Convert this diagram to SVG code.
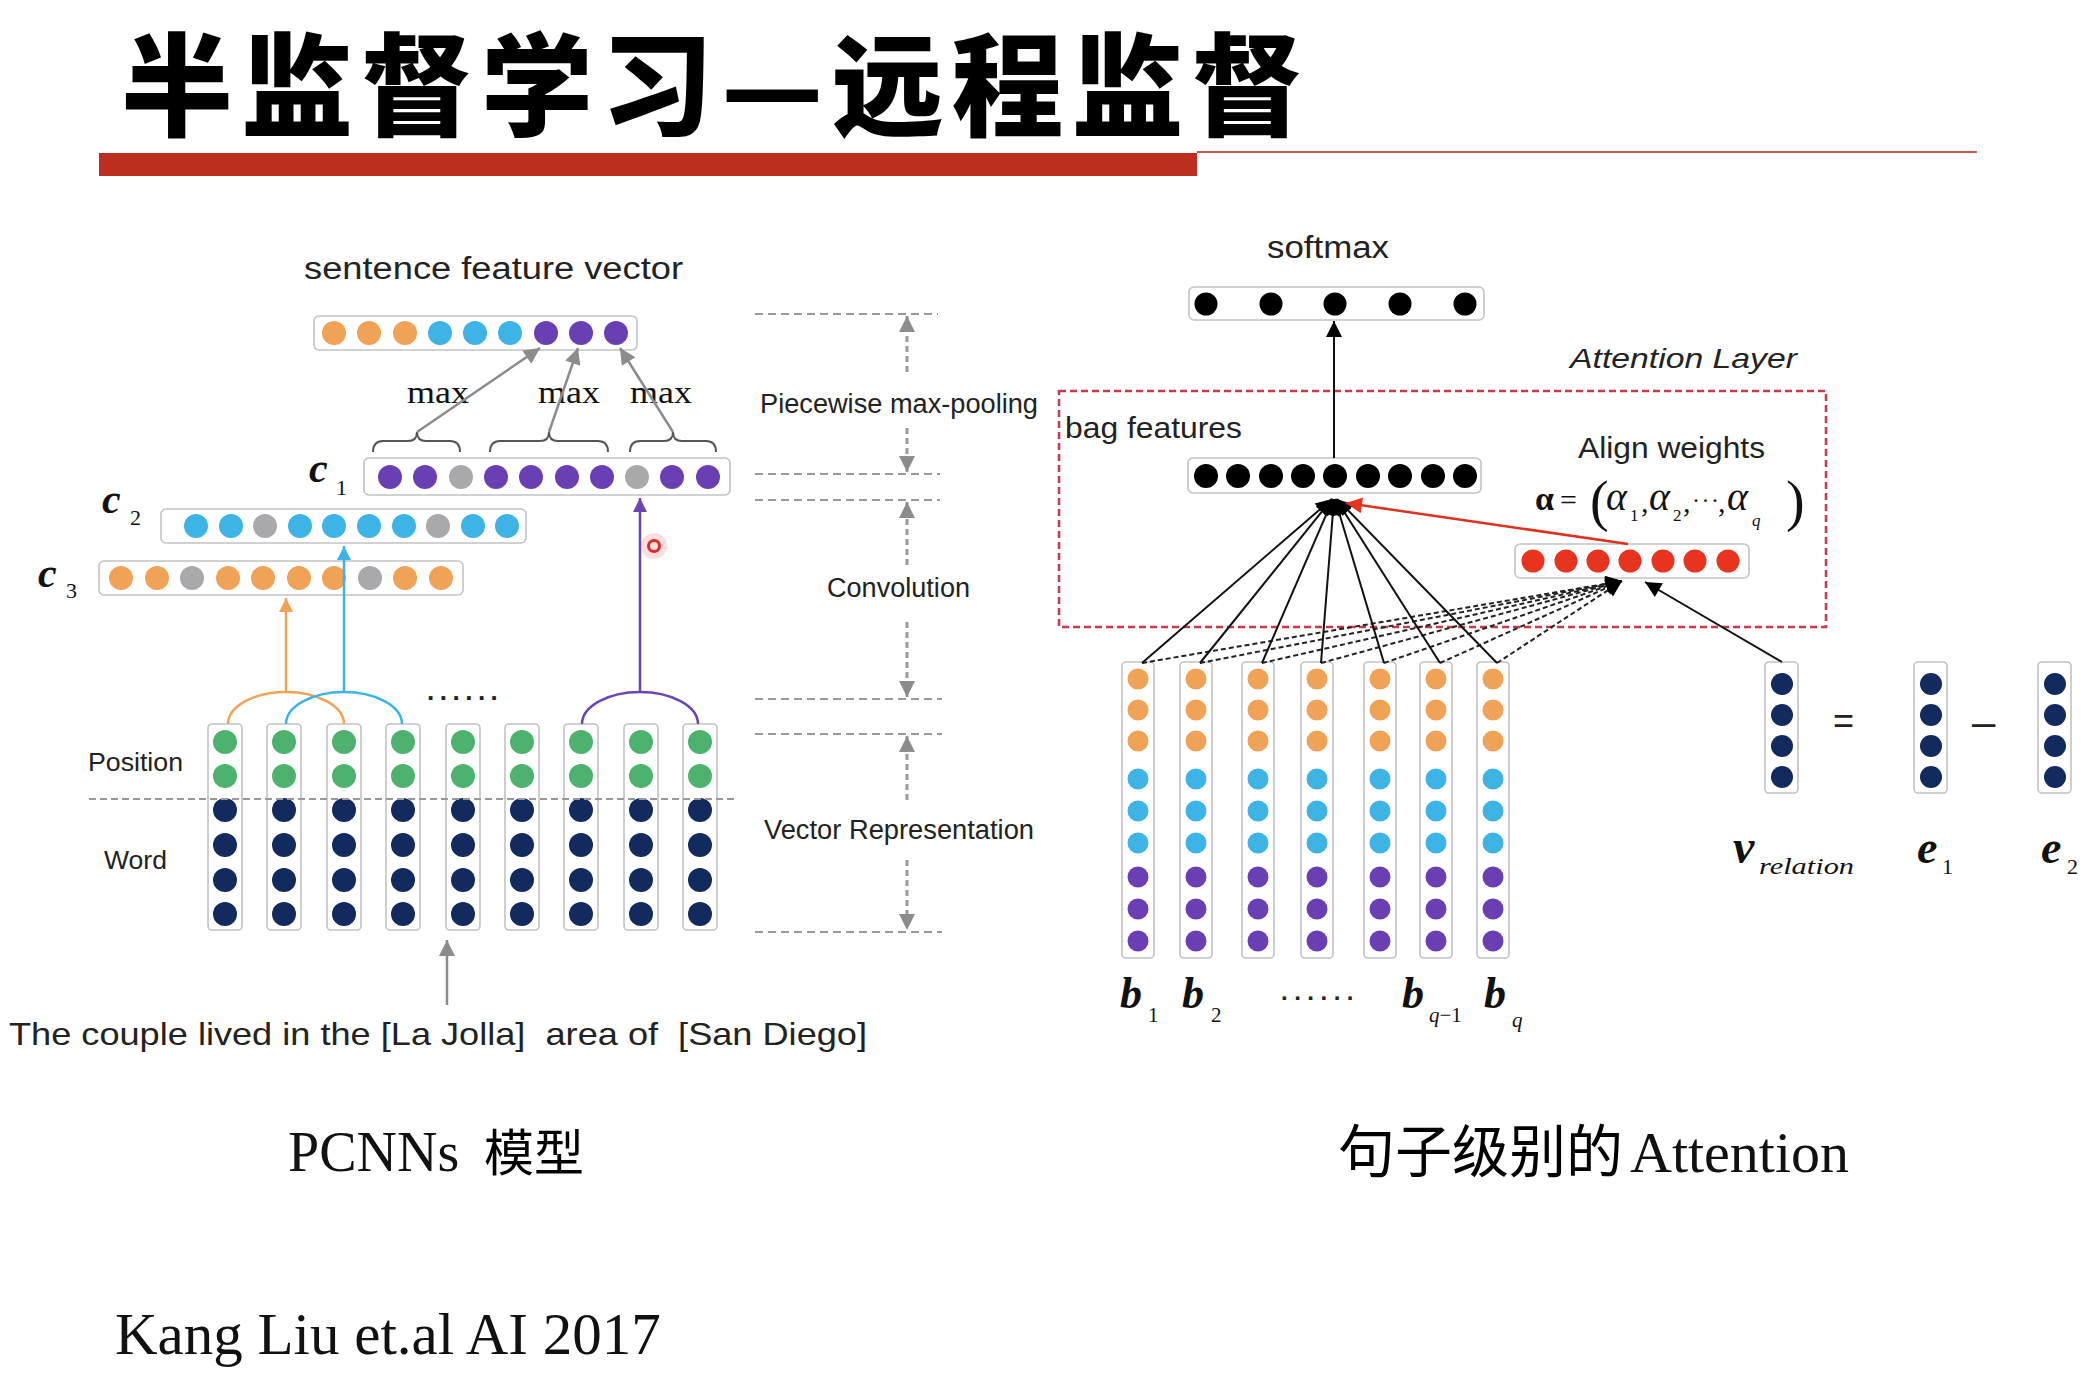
<svg xmlns="http://www.w3.org/2000/svg" width="2092" height="1374" viewBox="0 0 2092 1374">
<defs>
<style>
.bx{fill:#fff;stroke:#c2c2c2;stroke-width:1.6}
.o{fill:#f0a257}.b{fill:#3db3e6}.p{fill:#6a3fb3}.g{fill:#a9a9ab}.gr{fill:#4db26e}.n{fill:#122a5e}.k{fill:#000}.r{fill:#e8331f}
.sans{font-family:"Liberation Sans",Arial,sans-serif;fill:#222}
.serif{font-family:"Liberation Serif","Times New Roman",serif;fill:#111}
.cjk{font-family:"Noto Sans CJK SC",sans-serif}
.guide{stroke:#9a9a9a;stroke-width:2;stroke-dasharray:8 5;fill:none}
.gv{stroke:#9a9a9a;stroke-width:3;stroke-dasharray:6 4;fill:none}
.lbl{font-family:"Liberation Serif","Times New Roman",serif;font-weight:bold;font-style:italic;fill:#111}
</style>
<marker id="mg" viewBox="0 0 10 10" refX="10" refY="5" markerWidth="18" markerHeight="16" markerUnits="userSpaceOnUse" orient="auto"><path d="M0,0 L10,5 L0,10 z" fill="#8c8c8c"/></marker>
<marker id="mo" viewBox="0 0 10 10" refX="10" refY="5" markerWidth="16" markerHeight="14" markerUnits="userSpaceOnUse" orient="auto"><path d="M0,0 L10,5 L0,10 z" fill="#f0a257"/></marker>
<marker id="mb" viewBox="0 0 10 10" refX="10" refY="5" markerWidth="16" markerHeight="14" markerUnits="userSpaceOnUse" orient="auto"><path d="M0,0 L10,5 L0,10 z" fill="#3db3e6"/></marker>
<marker id="mp" viewBox="0 0 10 10" refX="10" refY="5" markerWidth="16" markerHeight="14" markerUnits="userSpaceOnUse" orient="auto"><path d="M0,0 L10,5 L0,10 z" fill="#6a45b3"/></marker>
<marker id="mk" viewBox="0 0 10 10" refX="10" refY="5" markerWidth="18" markerHeight="16" markerUnits="userSpaceOnUse" orient="auto"><path d="M0,0 L10,5 L0,10 z" fill="#000"/></marker>
<marker id="mr" viewBox="0 0 10 10" refX="10" refY="5" markerWidth="20" markerHeight="16" markerUnits="userSpaceOnUse" orient="auto"><path d="M0,0 L10,5 L0,10 z" fill="#e8331f"/></marker>
</defs>
<rect width="2092" height="1374" fill="#fff"/>

<!-- title -->
<g id="title">
<text x="121" y="128" class="cjk" font-size="112" font-weight="900" letter-spacing="8" fill="#000">半监督学习—远程监督</text>
<rect x="99" y="153" width="1098" height="23" fill="#bc2f1e"/>
<rect x="1197" y="151" width="780" height="2" fill="#c65a50"/>
</g>

<!-- ===== PCNN ===== -->
<g id="sentence-feature-vector">
<text x="304" y="279" class="sans" font-size="31" textLength="379" lengthAdjust="spacingAndGlyphs">sentence feature vector</text>
<rect class="bx" x="314" y="316" width="323" height="34" rx="5"/>
<circle class="o" cx="334" cy="333" r="12"/><circle class="o" cx="369" cy="333" r="12"/><circle class="o" cx="405" cy="333" r="12"/>
<circle class="b" cx="440" cy="333" r="12"/><circle class="b" cx="475" cy="333" r="12"/><circle class="b" cx="510" cy="333" r="12"/>
<circle class="p" cx="546" cy="333" r="12"/><circle class="p" cx="581" cy="333" r="12"/><circle class="p" cx="616" cy="333" r="12"/>
</g>

<g id="c1">
<text x="309" y="482" class="lbl" font-size="42">c</text><text x="336" y="495" class="serif" font-size="22">1</text>
<rect class="bx" x="364" y="458" width="366" height="37" rx="5"/>
<circle class="p" cx="390" cy="477" r="12"/><circle class="p" cx="425" cy="477" r="12"/><circle class="g" cx="461" cy="477" r="12"/>
<circle class="p" cx="496" cy="477" r="12"/><circle class="p" cx="531" cy="477" r="12"/><circle class="p" cx="567" cy="477" r="12"/>
<circle class="p" cx="602" cy="477" r="12"/><circle class="g" cx="637" cy="477" r="12"/><circle class="p" cx="672" cy="477" r="12"/>
<circle class="p" cx="708" cy="477" r="12"/>
</g>

<g id="c2">
<text x="102" y="513" class="lbl" font-size="42">c</text><text x="130" y="525" class="serif" font-size="22">2</text>
<rect class="bx" x="161" y="509" width="365" height="34" rx="5"/>
<circle class="b" cx="196" cy="526" r="12"/><circle class="b" cx="231" cy="526" r="12"/><circle class="g" cx="265" cy="526" r="12"/>
<circle class="b" cx="300" cy="526" r="12"/><circle class="b" cx="334" cy="526" r="12"/><circle class="b" cx="369" cy="526" r="12"/>
<circle class="b" cx="404" cy="526" r="12"/><circle class="g" cx="438" cy="526" r="12"/><circle class="b" cx="473" cy="526" r="12"/>
<circle class="b" cx="507" cy="526" r="12"/>
</g>

<g id="c3">
<text x="38" y="587" class="lbl" font-size="42">c</text><text x="66" y="598" class="serif" font-size="22">3</text>
<rect class="bx" x="99" y="561" width="364" height="34" rx="5"/>
<circle class="o" cx="121" cy="578" r="12"/><circle class="o" cx="157" cy="578" r="12"/><circle class="g" cx="192" cy="578" r="12"/>
<circle class="o" cx="228" cy="578" r="12"/><circle class="o" cx="263" cy="578" r="12"/><circle class="o" cx="299" cy="578" r="12"/>
<circle class="o" cx="334" cy="578" r="12"/><circle class="g" cx="370" cy="578" r="12"/><circle class="o" cx="405" cy="578" r="12"/>
<circle class="o" cx="441" cy="578" r="12"/>
</g>

<g id="braces" fill="none" stroke="#555" stroke-width="2">
<path d="M373,452 Q373,441 383,441 L408,441 Q417,441 417,432 Q417,441 426,441 L450,441 Q460,441 460,452"/>
<path d="M490,452 Q490,441 500,441 L540,441 Q549,441 549,432 Q549,441 558,441 L598,441 Q608,441 608,452"/>
<path d="M630,452 Q630,441 640,441 L664,441 Q673,441 673,432 Q673,441 682,441 L706,441 Q716,441 716,452"/>
</g>
<g id="max-labels">
<text x="407" y="403" class="serif" font-size="32" textLength="62" lengthAdjust="spacingAndGlyphs" fill="#333">max</text>
<text x="538" y="403" class="serif" font-size="32" textLength="62" lengthAdjust="spacingAndGlyphs" fill="#333">max</text>
<text x="630" y="403" class="serif" font-size="32" textLength="62" lengthAdjust="spacingAndGlyphs" fill="#333">max</text>
</g>

<g id="word-columns">
<text x="88" y="771" class="sans" font-size="26" textLength="95" lengthAdjust="spacingAndGlyphs">Position</text>
<text x="104" y="869" class="sans" font-size="26" textLength="63" lengthAdjust="spacingAndGlyphs">Word</text>
<g id="w1"><rect class="bx" x="208" y="724" width="34" height="206" rx="4"/><circle class="gr" cx="225" cy="742" r="12"/><circle class="gr" cx="225" cy="776" r="12"/><circle class="n" cx="225" cy="810" r="12"/><circle class="n" cx="225" cy="845" r="12"/><circle class="n" cx="225" cy="880" r="12"/><circle class="n" cx="225" cy="914" r="12"/></g>
<g id="w2"><rect class="bx" x="267" y="724" width="34" height="206" rx="4"/><circle class="gr" cx="284" cy="742" r="12"/><circle class="gr" cx="284" cy="776" r="12"/><circle class="n" cx="284" cy="810" r="12"/><circle class="n" cx="284" cy="845" r="12"/><circle class="n" cx="284" cy="880" r="12"/><circle class="n" cx="284" cy="914" r="12"/></g>
<g id="w3"><rect class="bx" x="327" y="724" width="34" height="206" rx="4"/><circle class="gr" cx="344" cy="742" r="12"/><circle class="gr" cx="344" cy="776" r="12"/><circle class="n" cx="344" cy="810" r="12"/><circle class="n" cx="344" cy="845" r="12"/><circle class="n" cx="344" cy="880" r="12"/><circle class="n" cx="344" cy="914" r="12"/></g>
<g id="w4"><rect class="bx" x="386" y="724" width="34" height="206" rx="4"/><circle class="gr" cx="403" cy="742" r="12"/><circle class="gr" cx="403" cy="776" r="12"/><circle class="n" cx="403" cy="810" r="12"/><circle class="n" cx="403" cy="845" r="12"/><circle class="n" cx="403" cy="880" r="12"/><circle class="n" cx="403" cy="914" r="12"/></g>
<g id="w5"><rect class="bx" x="446" y="724" width="34" height="206" rx="4"/><circle class="gr" cx="463" cy="742" r="12"/><circle class="gr" cx="463" cy="776" r="12"/><circle class="n" cx="463" cy="810" r="12"/><circle class="n" cx="463" cy="845" r="12"/><circle class="n" cx="463" cy="880" r="12"/><circle class="n" cx="463" cy="914" r="12"/></g>
<g id="w6"><rect class="bx" x="505" y="724" width="34" height="206" rx="4"/><circle class="gr" cx="522" cy="742" r="12"/><circle class="gr" cx="522" cy="776" r="12"/><circle class="n" cx="522" cy="810" r="12"/><circle class="n" cx="522" cy="845" r="12"/><circle class="n" cx="522" cy="880" r="12"/><circle class="n" cx="522" cy="914" r="12"/></g>
<g id="w7"><rect class="bx" x="564" y="724" width="34" height="206" rx="4"/><circle class="gr" cx="581" cy="742" r="12"/><circle class="gr" cx="581" cy="776" r="12"/><circle class="n" cx="581" cy="810" r="12"/><circle class="n" cx="581" cy="845" r="12"/><circle class="n" cx="581" cy="880" r="12"/><circle class="n" cx="581" cy="914" r="12"/></g>
<g id="w8"><rect class="bx" x="624" y="724" width="34" height="206" rx="4"/><circle class="gr" cx="641" cy="742" r="12"/><circle class="gr" cx="641" cy="776" r="12"/><circle class="n" cx="641" cy="810" r="12"/><circle class="n" cx="641" cy="845" r="12"/><circle class="n" cx="641" cy="880" r="12"/><circle class="n" cx="641" cy="914" r="12"/></g>
<g id="w9"><rect class="bx" x="683" y="724" width="34" height="206" rx="4"/><circle class="gr" cx="700" cy="742" r="12"/><circle class="gr" cx="700" cy="776" r="12"/><circle class="n" cx="700" cy="810" r="12"/><circle class="n" cx="700" cy="845" r="12"/><circle class="n" cx="700" cy="880" r="12"/><circle class="n" cx="700" cy="914" r="12"/></g>
<line x1="89" y1="799" x2="735" y2="799" stroke="#999" stroke-width="2" stroke-dasharray="7 4"/>
<text x="427" y="700" class="sans" font-size="26" font-weight="bold" letter-spacing="5.5" fill="#111">......</text>
</g>

<g id="sentence">
<text x="9" y="1045" class="sans" font-size="32" textLength="858" lengthAdjust="spacingAndGlyphs" style="white-space:pre" xml:space="preserve">The couple lived in the [La Jolla]  area of  [San Diego]</text>
</g>

<g id="cursor">
<circle cx="654" cy="546" r="13" fill="#f6c6c6" opacity="0.6"/>
<circle cx="654" cy="546" r="5.5" fill="none" stroke="#e02a2a" stroke-width="3"/>
</g>

<!-- middle stage guides -->
<g id="stage-guides">
<line class="guide" x1="755" y1="314" x2="938" y2="314"/>
<line class="guide" x1="755" y1="474" x2="940" y2="474"/>
<line class="guide" x1="755" y1="500" x2="940" y2="500"/>
<line class="guide" x1="755" y1="699" x2="942" y2="699"/>
<line class="guide" x1="755" y1="734" x2="942" y2="734"/>
<line class="guide" x1="755" y1="932" x2="942" y2="932"/>
<text x="760" y="413" class="sans" font-size="27" textLength="278" lengthAdjust="spacingAndGlyphs" fill="#333">Piecewise max-pooling</text>
<text x="827" y="597" class="sans" font-size="27" textLength="143" lengthAdjust="spacingAndGlyphs" fill="#333">Convolution</text>
<text x="764" y="839" class="sans" font-size="27" textLength="270" lengthAdjust="spacingAndGlyphs" fill="#333">Vector Representation</text>
</g>

<!-- ===== Attention ===== -->
<g id="softmax">
<text x="1267" y="258" class="sans" font-size="31" textLength="122" lengthAdjust="spacingAndGlyphs">softmax</text>
<rect class="bx" x="1189" y="287" width="295" height="33" rx="5"/>
<circle class="k" cx="1206" cy="304" r="11.5"/><circle class="k" cx="1271" cy="304" r="11.5"/><circle class="k" cx="1335" cy="304" r="11.5"/><circle class="k" cx="1400" cy="304" r="11.5"/><circle class="k" cx="1465" cy="304" r="11.5"/>
</g>

<g id="attention-layer">
<text x="1570" y="368" class="sans" font-size="28" font-style="italic" textLength="227" lengthAdjust="spacingAndGlyphs">Attention Layer</text>
<rect x="1059" y="391" width="767" height="236" fill="none" stroke="#c63a4c" stroke-width="2.5" stroke-dasharray="7 4"/>
</g>

<g id="bag-features">
<text x="1065" y="438" class="sans" font-size="30" textLength="177" lengthAdjust="spacingAndGlyphs">bag features</text>
<rect class="bx" x="1188" y="458" width="293" height="35" rx="5"/>
<circle class="k" cx="1206" cy="476" r="12"/><circle class="k" cx="1238" cy="476" r="12"/><circle class="k" cx="1271" cy="476" r="12"/><circle class="k" cx="1303" cy="476" r="12"/><circle class="k" cx="1335" cy="476" r="12"/><circle class="k" cx="1368" cy="476" r="12"/><circle class="k" cx="1400" cy="476" r="12"/><circle class="k" cx="1433" cy="476" r="12"/><circle class="k" cx="1465" cy="476" r="12"/>
</g>

<g id="align-weights">
<text x="1578" y="458" class="sans" font-size="29" textLength="187" lengthAdjust="spacingAndGlyphs">Align weights</text>
<text x="1535" y="510" class="serif" font-size="34" font-weight="bold">α</text>
<text x="1560" y="510" class="serif" font-size="30">=</text>
<text x="1590" y="520" class="serif" font-size="56">(</text>
<text x="1786" y="520" class="serif" font-size="56">)</text>
<text class="serif" font-size="40" font-style="italic" y="510"><tspan x="1606">α</tspan><tspan x="1649">α</tspan><tspan x="1727">α</tspan></text>
<text class="serif" font-size="17" y="521"><tspan x="1630">1</tspan><tspan x="1673">2</tspan><tspan x="1752" y="526" font-style="italic">q</tspan></text>
<text class="serif" font-size="30" y="512"><tspan x="1641">,</tspan><tspan x="1683">,</tspan><tspan x="1718">,</tspan></text>
<text x="1692" y="508" class="serif" font-size="24" letter-spacing="1.5">···</text>
</g>

<g id="align-vector">
<rect class="bx" x="1515" y="544" width="234" height="34" rx="5"/>
<circle class="r" cx="1533" cy="561" r="11.5"/><circle class="r" cx="1566" cy="561" r="11.5"/><circle class="r" cx="1598" cy="561" r="11.5"/><circle class="r" cx="1630" cy="561" r="11.5"/><circle class="r" cx="1663" cy="561" r="11.5"/><circle class="r" cx="1695" cy="561" r="11.5"/><circle class="r" cx="1728" cy="561" r="11.5"/>
</g>

<g id="bag-columns">
<g id="b1"><rect class="bx" x="1122" y="662" width="32" height="296" rx="4"/><circle class="o" cx="1138" cy="679" r="10.5"/><circle class="o" cx="1138" cy="710" r="10.5"/><circle class="o" cx="1138" cy="741" r="10.5"/><circle class="b" cx="1138" cy="779" r="10.5"/><circle class="b" cx="1138" cy="811" r="10.5"/><circle class="b" cx="1138" cy="843" r="10.5"/><circle class="p" cx="1138" cy="877" r="10.5"/><circle class="p" cx="1138" cy="909" r="10.5"/><circle class="p" cx="1138" cy="941" r="10.5"/></g>
<g id="b2"><rect class="bx" x="1180" y="662" width="32" height="296" rx="4"/><circle class="o" cx="1196" cy="679" r="10.5"/><circle class="o" cx="1196" cy="710" r="10.5"/><circle class="o" cx="1196" cy="741" r="10.5"/><circle class="b" cx="1196" cy="779" r="10.5"/><circle class="b" cx="1196" cy="811" r="10.5"/><circle class="b" cx="1196" cy="843" r="10.5"/><circle class="p" cx="1196" cy="877" r="10.5"/><circle class="p" cx="1196" cy="909" r="10.5"/><circle class="p" cx="1196" cy="941" r="10.5"/></g>
<g id="b3"><rect class="bx" x="1242" y="662" width="32" height="296" rx="4"/><circle class="o" cx="1258" cy="679" r="10.5"/><circle class="o" cx="1258" cy="710" r="10.5"/><circle class="o" cx="1258" cy="741" r="10.5"/><circle class="b" cx="1258" cy="779" r="10.5"/><circle class="b" cx="1258" cy="811" r="10.5"/><circle class="b" cx="1258" cy="843" r="10.5"/><circle class="p" cx="1258" cy="877" r="10.5"/><circle class="p" cx="1258" cy="909" r="10.5"/><circle class="p" cx="1258" cy="941" r="10.5"/></g>
<g id="b4"><rect class="bx" x="1301" y="662" width="32" height="296" rx="4"/><circle class="o" cx="1317" cy="679" r="10.5"/><circle class="o" cx="1317" cy="710" r="10.5"/><circle class="o" cx="1317" cy="741" r="10.5"/><circle class="b" cx="1317" cy="779" r="10.5"/><circle class="b" cx="1317" cy="811" r="10.5"/><circle class="b" cx="1317" cy="843" r="10.5"/><circle class="p" cx="1317" cy="877" r="10.5"/><circle class="p" cx="1317" cy="909" r="10.5"/><circle class="p" cx="1317" cy="941" r="10.5"/></g>
<g id="b5"><rect class="bx" x="1364" y="662" width="32" height="296" rx="4"/><circle class="o" cx="1380" cy="679" r="10.5"/><circle class="o" cx="1380" cy="710" r="10.5"/><circle class="o" cx="1380" cy="741" r="10.5"/><circle class="b" cx="1380" cy="779" r="10.5"/><circle class="b" cx="1380" cy="811" r="10.5"/><circle class="b" cx="1380" cy="843" r="10.5"/><circle class="p" cx="1380" cy="877" r="10.5"/><circle class="p" cx="1380" cy="909" r="10.5"/><circle class="p" cx="1380" cy="941" r="10.5"/></g>
<g id="b6"><rect class="bx" x="1420" y="662" width="32" height="296" rx="4"/><circle class="o" cx="1436" cy="679" r="10.5"/><circle class="o" cx="1436" cy="710" r="10.5"/><circle class="o" cx="1436" cy="741" r="10.5"/><circle class="b" cx="1436" cy="779" r="10.5"/><circle class="b" cx="1436" cy="811" r="10.5"/><circle class="b" cx="1436" cy="843" r="10.5"/><circle class="p" cx="1436" cy="877" r="10.5"/><circle class="p" cx="1436" cy="909" r="10.5"/><circle class="p" cx="1436" cy="941" r="10.5"/></g>
<g id="b7"><rect class="bx" x="1477" y="662" width="32" height="296" rx="4"/><circle class="o" cx="1493" cy="679" r="10.5"/><circle class="o" cx="1493" cy="710" r="10.5"/><circle class="o" cx="1493" cy="741" r="10.5"/><circle class="b" cx="1493" cy="779" r="10.5"/><circle class="b" cx="1493" cy="811" r="10.5"/><circle class="b" cx="1493" cy="843" r="10.5"/><circle class="p" cx="1493" cy="877" r="10.5"/><circle class="p" cx="1493" cy="909" r="10.5"/><circle class="p" cx="1493" cy="941" r="10.5"/></g>
<g id="b-labels">
<text x="1120" y="1008" class="lbl" font-size="44">b</text><text x="1148" y="1022" class="serif" font-size="21">1</text>
<text x="1182" y="1008" class="lbl" font-size="44">b</text><text x="1211" y="1022" class="serif" font-size="21">2</text>
<text x="1281" y="1000" class="sans" font-size="24" font-weight="bold" letter-spacing="6.5" fill="#111">......</text>
<text x="1402" y="1008" class="lbl" font-size="44">b</text><text x="1429" y="1022" class="serif" font-size="21"><tspan font-style="italic">q</tspan>−1</text>
<text x="1484" y="1008" class="lbl" font-size="44">b</text><text x="1512" y="1027" class="serif" font-size="21" font-style="italic">q</text>
</g>
</g>

<g id="relation">
<g id="v-relation"><rect class="bx" x="1765" y="662" width="33" height="131" rx="4"/><circle class="n" cx="1782" cy="684" r="11"/><circle class="n" cx="1782" cy="715" r="11"/><circle class="n" cx="1782" cy="746" r="11"/><circle class="n" cx="1782" cy="777" r="11"/></g>
<g id="e1"><rect class="bx" x="1914" y="662" width="33" height="131" rx="4"/><circle class="n" cx="1931" cy="684" r="11"/><circle class="n" cx="1931" cy="715" r="11"/><circle class="n" cx="1931" cy="746" r="11"/><circle class="n" cx="1931" cy="777" r="11"/></g>
<g id="e2"><rect class="bx" x="2038" y="662" width="33" height="131" rx="4"/><circle class="n" cx="2055" cy="684" r="11"/><circle class="n" cx="2055" cy="715" r="11"/><circle class="n" cx="2055" cy="746" r="11"/><circle class="n" cx="2055" cy="777" r="11"/></g>
<text x="1833" y="733" class="sans" font-size="36" fill="#333">=</text>
<text x="1972" y="736" class="sans" font-size="42" fill="#333">–</text>
<text x="1733" y="863" class="lbl" font-size="48">v</text><text x="1759" y="874" class="serif" font-size="24" font-style="italic" textLength="95" lengthAdjust="spacingAndGlyphs" fill="#333">relation</text>
<text x="1917" y="863" class="lbl" font-size="46">e</text><text x="1942" y="874" class="serif" font-size="22">1</text>
<text x="2041" y="863" class="lbl" font-size="46">e</text><text x="2067" y="874" class="serif" font-size="22">2</text>
</g>

<!-- captions -->
<g id="captions">
<text x="288" y="1171" class="serif" font-size="56" fill="#000">PCNNs</text>
<text x="484" y="1171" class="cjk" font-size="50" fill="#000">模型</text>
<text x="1338" y="1172" class="cjk" font-size="57" fill="#000">句子级别的</text>
<text x="1630" y="1172" class="serif" font-size="58" fill="#000">Attention</text>
<text x="115" y="1354" class="serif" font-size="59" fill="#000">Kang Liu et.al AI 2017</text>
</g>

<!-- ===== connectors ===== -->
<g id="connectors">
<line x1="417" y1="432" x2="540" y2="348" stroke="#8c8c8c" stroke-width="2.5" marker-end="url(#mg)"/>
<line x1="549" y1="432" x2="578" y2="348" stroke="#8c8c8c" stroke-width="2.5" marker-end="url(#mg)"/>
<line x1="673" y1="432" x2="620" y2="348" stroke="#8c8c8c" stroke-width="2.5" marker-end="url(#mg)"/>
<path d="M228,724 A58,32 0 0 1 344,724" fill="none" stroke="#f0a257" stroke-width="2.5"/>
<line x1="286" y1="692" x2="286" y2="598" stroke="#f0a257" stroke-width="2.5" marker-end="url(#mo)"/>
<path d="M286,724 A58,32 0 0 1 402,724" fill="none" stroke="#3db3e6" stroke-width="2.5"/>
<line x1="344" y1="692" x2="344" y2="546" stroke="#3db3e6" stroke-width="2.5" marker-end="url(#mb)"/>
<path d="M582,724 A58,32 0 0 1 698,724" fill="none" stroke="#6a45b3" stroke-width="2.5"/>
<line x1="640" y1="692" x2="640" y2="498" stroke="#6a45b3" stroke-width="2.5" marker-end="url(#mp)"/>
<line x1="447" y1="1005" x2="447" y2="940" stroke="#8c8c8c" stroke-width="2.5" marker-end="url(#mg)"/>
<line class="gv" x1="907" y1="372" x2="907" y2="316" marker-end="url(#mg)"/>
<line class="gv" x1="907" y1="428" x2="907" y2="472" marker-end="url(#mg)"/>
<line class="gv" x1="907" y1="565" x2="907" y2="502" marker-end="url(#mg)"/>
<line class="gv" x1="907" y1="622" x2="907" y2="697" marker-end="url(#mg)"/>
<line class="gv" x1="907" y1="800" x2="907" y2="736" marker-end="url(#mg)"/>
<line class="gv" x1="907" y1="860" x2="907" y2="930" marker-end="url(#mg)"/>
<line x1="1334" y1="458" x2="1334" y2="321" stroke="#111" stroke-width="2" marker-end="url(#mk)"/>
<g stroke="#222" stroke-width="2" stroke-dasharray="5 3" fill="none">
<line x1="1142" y1="663" x2="1622" y2="581" marker-end="url(#mk)"/>
<line x1="1200" y1="663" x2="1622" y2="581" marker-end="url(#mk)"/>
<line x1="1262" y1="663" x2="1622" y2="581" marker-end="url(#mk)"/>
<line x1="1321" y1="663" x2="1622" y2="581" marker-end="url(#mk)"/>
<line x1="1384" y1="663" x2="1622" y2="581" marker-end="url(#mk)"/>
<line x1="1440" y1="663" x2="1622" y2="581" marker-end="url(#mk)"/>
<line x1="1497" y1="663" x2="1622" y2="581" marker-end="url(#mk)"/>
</g>
<g stroke="#111" stroke-width="2" fill="none">
<line x1="1142" y1="663" x2="1332" y2="499" marker-end="url(#mk)"/>
<line x1="1200" y1="663" x2="1332" y2="499" marker-end="url(#mk)"/>
<line x1="1262" y1="663" x2="1333" y2="499" marker-end="url(#mk)"/>
<line x1="1321" y1="663" x2="1334" y2="499" marker-end="url(#mk)"/>
<line x1="1384" y1="663" x2="1335" y2="499" marker-end="url(#mk)"/>
<line x1="1440" y1="663" x2="1336" y2="499" marker-end="url(#mk)"/>
<line x1="1497" y1="663" x2="1337" y2="499" marker-end="url(#mk)"/>
<line x1="1782" y1="662" x2="1645" y2="582" marker-end="url(#mk)"/>
</g>
<line x1="1628" y1="544" x2="1346" y2="503" stroke="#e0301e" stroke-width="2.5" marker-end="url(#mr)"/>
</g>
</svg>
